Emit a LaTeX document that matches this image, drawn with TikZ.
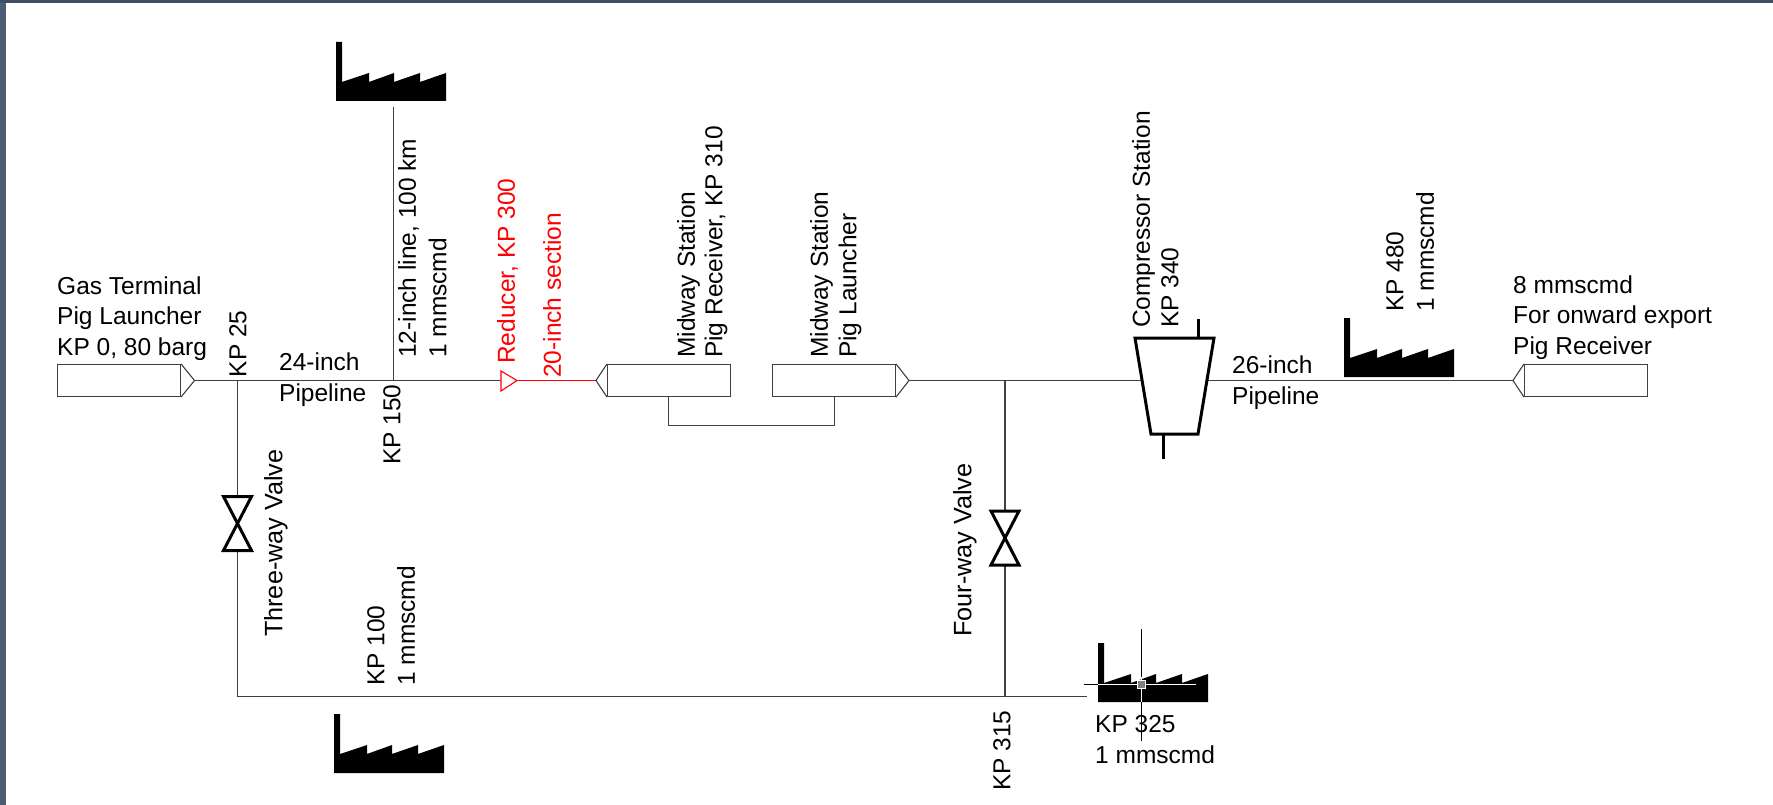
\documentclass[tikz,border=0pt]{standalone}
\usepackage{fontspec}
\usepackage{xcolor}
\setmainfont{Liberation Sans}
\definecolor{pipeline}{HTML}{404040}
\definecolor{framecol}{HTML}{4C5D75}
\definecolor{framedark}{HTML}{3F4E63}
\tikzset{
  lbl/.style={inner sep=0pt,align=left,font=\fontsize{24.5}{30.5}\selectfont},
  lblwide/.style={font=\fontsize{25.2}{30.5}\selectfont},
  vlbl/.style={lbl,rotate=90,anchor=north west},
  hlbl/.style={lbl,anchor=base west},
  pipe/.style={draw=pipeline,line width=1.1pt},
  pigbox/.style={draw=pipeline,line width=1.1pt,fill=white,minimum width=123pt,minimum height=32pt,inner sep=0pt},
  thickline/.style={line width=3pt,line join=miter},
  factory/.pic={
    \fill (0,0) -- (6,0) -- (6,40) -- (33,31) -- (33,40) -- (58,31) -- (58,40) -- (84,31) -- (84,40) -- (110,31) -- (110,59) -- (0,59) -- cycle;
  },
  valve/.pic={
    \draw[thickline,fill=white] (-14,-27) -- (14,-27) -- (-14,27) -- (14,27) -- cycle;
  }
}
\begin{document}
\begin{tikzpicture}[x=1pt,y=-1pt]
\useasboundingbox (0,0) rectangle (1773,805);
\fill[framecol] (0,0) rectangle (6,805);
\fill[framedark] (0,0) rectangle (1773,3.5);

\node[pigbox] (launcherA) at (119,380.5) {};
\node[pigbox] (receiverB) at (669,380.5) {};
\node[pigbox] (launcherB) at (834,380.5) {};
\node[pigbox] (receiverC) at (1586,380.5) {};
\coordinate (tipA) at (194.5,380.5);
\coordinate (tipB) at (596,380.5);
\coordinate (tipC) at (909,380.5);
\coordinate (tipD) at (1513,380.5);
\draw[pipe] (launcherA.north east) -- (tipA) -- (launcherA.south east);
\draw[pipe] (receiverB.north west) -- (tipB) -- (receiverB.south west);
\draw[pipe] (launcherB.north east) -- (tipC) -- (launcherB.south east);
\draw[pipe] (receiverC.north west) -- (tipD) -- (receiverC.south west);

\coordinate (kpA) at (237.5,380.5);
\coordinate (kpB) at (393.5,380.5);
\coordinate (kpC) at (1005,380.5);
\coordinate (kpD) at (237.5,696.5);
\coordinate (kpE) at (1005,696.5);
\coordinate (endA) at (1087,696.5);
\coordinate (endB) at (393.5,107);
\coordinate (redA) at (501,380.5);
\coordinate (redB) at (517,380.5);
\coordinate (wallA) at (1142,380.5);
\coordinate (wallB) at (1207,380.5);
\coordinate (loopA) at (668.5,425.5);
\coordinate (loopB) at (834.5,425.5);

\draw[pipe] (tipA) -- (redA);
\draw[pipe] (endB) -- (kpB);
\draw[pipe] (kpA) -- (kpD) -- (endA);
\draw[pipe] (kpC) -- (kpE);
\draw[pipe] (tipC) -- (wallA);
\draw[pipe] (wallB) -- (tipD);
\draw[pipe] (receiverB.south -| loopA) -- (loopA) -- (loopB) -- (launcherB.south -| loopB);
\draw[red,line width=1.1pt] (redB) -- (tipB);
\draw[red,line width=1.1pt,fill=white] (501,371) -- (redB) -- (501,391) -- cycle;

\pic at (237.5,523.5) {valve};
\pic at (1005,538) {valve};
\pic at (336,42) {factory};
\pic at (334,714) {factory};
\pic at (1344,318) {factory};
\pic at (1098,643) {factory};

\draw[thickline] (1135,338) -- (1214,338) -- (1198,434) -- (1151,434) -- cycle;
\draw[thickline] (1198.5,319) -- (1198.5,338);
\draw[thickline] (1163,434) -- (1163,459);

\node[hlbl] (gaslbl) at (57,355) {Gas Terminal\\Pig Launcher\\KP 0, 80 barg};
\node[vlbl] (kpAlbl) at (229,377.5) {KP 25};
\node[hlbl] (pipeAlbl) at (279,401) {24-inch\\Pipeline};
\node[vlbl] (kpBlbl) at (383,465) {KP 150};
\node[vlbl] (linelbl) at (398,358) {12-inch line, 100 km\\1 mmscmd};
\node[vlbl,red] (redlblA) at (497,364) {Reducer, KP 300};
\node[vlbl,red] (redlblB) at (543,378) {20-inch section};
\node[vlbl] (midAlbl) at (677,358) {Midway Station\\[-3pt]Pig Receiver, KP 310};
\node[vlbl] (midBlbl) at (810,358) {Midway Station\\[-2pt]Pig Launcher};
\node[vlbl] (complbl) at (1132,328) {Compressor Station\\[-2pt]KP 340};
\node[hlbl] (pipeBlbl) at (1232,404) {26-inch\\Pipeline};
\node[vlbl] (kpFlbl) at (1386,312) {KP 480\\1 mmscmd};
\node[hlbl] (exportlbl) at (1513,354) {8 mmscmd\\For onward export\\Pig Receiver};
\node[vlbl,lblwide] (threelbl) at (264,637) {Three-way Valve};
\node[vlbl] (kpGlbl) at (367,686) {KP 100\\1 mmscmd};
\node[vlbl,lblwide] (fourlbl) at (953,637) {Four-way Valve};
\node[vlbl] (kpHlbl) at (993,791) {KP 315};
\node[hlbl] (kpIlbl) at (1095,763) {KP 325\\1 mmscmd};

\coordinate (cursor) at (1141,684);
\draw[line width=1pt] (cursor |- 0,629) -- (cursor |- 0,741);
\draw[line width=1pt] (1084,684) -- (1098,684);
\draw[white,line width=1pt] (1098,684) -- (1196,684);
\draw[white,line width=1pt] (cursor |- 0,677) -- (cursor |- 0,702);
\draw[white,fill=gray,line width=1pt] (1137,680) rectangle (1145,688);
\end{tikzpicture}
\end{document}
